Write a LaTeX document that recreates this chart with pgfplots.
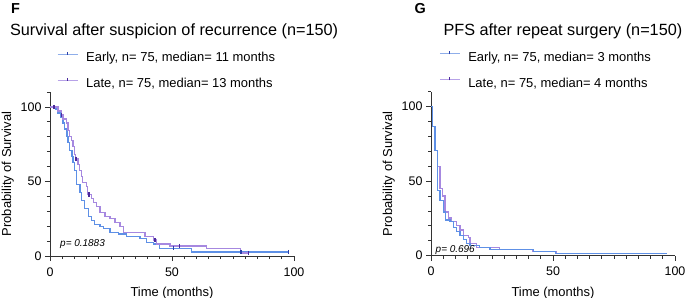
\documentclass[border=0pt]{standalone}
\usepackage{pgfplots}
\pgfplotsset{compat=1.18}
\usepackage{fontspec}
\setmainfont{Liberation Sans}

\definecolor{earlyline}{HTML}{5E90E6}
\definecolor{lateline}{HTML}{A688E0}
\definecolor{earlylegend}{HTML}{8FAEEA}
\definecolor{latelegend}{HTML}{B7A2E8}
\definecolor{earlymark}{HTML}{2A3FA8}
\definecolor{latemark}{HTML}{4B2A9C}
\definecolor{axisgray}{HTML}{333333}

\pgfplotsset{
  kmaxis/.style={
    scale only axis, width=244bp, height=163.9bp,
    xmin=0, xmax=100, ymin=0, ymax=110,
    axis lines*=left,
    axis line style={axisgray, line width=0.9bp},
    tick style={axisgray, line width=0.9bp},
    tick align=outside,
    major tick length=5bp, minor tick length=3bp,
    xtick={0,50,100}, minor xtick={5,10,...,95},
    ytick={0,50,100}, minor ytick={10,20,...,110},
    ticklabel style={font=\fontsize{12.5}{14}\selectfont, text=black},
    xticklabel style={yshift=-3bp},
    /pgf/number format/assume math mode=true,
    xlabel={Time (months)}, ylabel={Probability of Survival},
    label style={font=\fontsize{13}{15}\selectfont},
    xlabel style={yshift=-4bp},
    clip=false,
    legend cell align=left,
    legend style={draw=none, fill=none, inner sep=0pt,
      font=\fontsize{13}{15}\selectfont,
      nodes={inner sep=0pt, text height=9.5bp, text depth=2.5bp},
      row sep=13bp, column sep=8bp,
      at={(axis description cs:0.0287,1.252)}, anchor=north west},
  },
  earlystep/.style={earlyline, line width=1.2bp, const plot, no marks},
  latestep/.style={lateline, line width=1.2bp, const plot, no marks},
  earlykey/.style={legend image code/.code={
      \draw[earlylegend, line width=1bp] (0bp,4bp) -- (20bp,4bp);
      \draw[earlymark, line width=1.2bp] (10bp,3.5bp) -- (10bp,6.5bp);}},
  latekey/.style={legend image code/.code={
      \draw[latelegend, line width=1bp] (0bp,4bp) -- (20bp,4bp);
      \draw[latemark, line width=1.2bp] (10bp,3.5bp) -- (10bp,6.5bp);}},
  censor/.style={only marks, mark=|, mark size=2.2bp,
    mark options={line width=1.4bp, draw=#1}, forget plot},
}

\begin{document}
\begin{tikzpicture}
\useasboundingbox (0,0) rectangle (685bp,298bp);

% ---------------- Panel F ----------------
\node[anchor=base west, font=\bfseries\fontsize{14.5}{16}\selectfont] at (7.5bp,284.5bp) {F};
\node[anchor=base west, font=\fontsize{16.3}{18}\selectfont] at (6.5bp,262bp)
  {Survival after suspicion of recurrence (n=150)};

\begin{axis}[kmaxis, at={(50bp,42bp)}, anchor=south west]
  \addlegendimage{earlykey}
  \addlegendentry{Early, n= 75, median= 11 months}
  \addlegendimage{latekey}
  \addlegendentry{Late, n= 75, median= 13 months}
  \addplot[earlystep, forget plot] coordinates {
    (0,100) (2.2,98.7) (3.3,96.0) (4.5,93.3) (5.3,89.3) (6.0,85.3) (7.0,80.0)
    (7.4,76.0) (8.1,70.7) (9.0,66.7) (9.4,62.7) (10.2,57.3) (10.8,52.0)
    (11.0,48.0) (12.3,42.7) (13.0,37.3) (14.3,32.0) (15.7,26.7) (17.1,24.0)
    (18.4,21.3) (20.5,20.0) (21.8,18.7) (24.6,16.0) (28.0,14.7) (31.4,13.3)
    (36.9,12.0) (39.6,9.3) (42.3,8.0) (45.0,5.3) (58.0,2.7) (97.7,2.7)};
  \addplot[latestep, forget plot] coordinates {
    (0,100) (3.3,97.3) (4.6,94.7) (5.3,92.0) (6.7,89.3) (7.4,84.0) (8.1,80.0)
    (8.7,77.3) (9.4,73.3) (10.2,68.0) (10.5,65.3) (11.5,61.3) (12.2,57.3)
    (12.8,53.3) (13.4,49.3) (15.0,46.7) (15.5,41.3) (17.0,38.7) (17.8,36.0)
    (19.1,33.3) (20.5,29.3) (22.5,26.7) (24.6,25.3) (26.6,22.7) (28.7,20.0)
    (30.0,16.0) (38.9,13.3) (42.3,10.7) (43.7,8.0) (49.2,6.7) (64.3,5.3)
    (78.0,2.0) (81.3,2.0)};
  \addplot[censor=earlymark] coordinates {(50.5,5.3) (78.3,2.7) (97.7,2.7)};
  \addplot[censor=latemark] coordinates {(1.6,100) (4.8,94.7) (10.7,65.3)
    (16.0,41.3) (43.0,10.7) (53.0,6.7) (81.3,2.0)};
  \node[anchor=base west, font=\itshape\fontsize{10}{12}\selectfont]
    at (axis cs:2.75,6.2) {p= 0.1883};
\end{axis}

% ---------------- Panel G ----------------
\node[anchor=base west, font=\bfseries\fontsize{14.5}{16}\selectfont] at (411bp,284.5bp) {G};
\node[anchor=base west, font=\fontsize{16.3}{18}\selectfont] at (440bp,262bp)
  {PFS after repeat surgery (n=150)};

\begin{axis}[kmaxis, at={(431bp,42.3bp)}, anchor=south west,
  legend style={at={(axis description cs:0.033,1.252)}}]
  \addlegendimage{earlykey}
  \addlegendentry{Early, n= 75, median= 3 months}
  \addlegendimage{latekey}
  \addlegendentry{Late, n= 75, median= 4 months}
  \addplot[latestep, forget plot] coordinates {
    (0,100) (0.5,86.7) (1.6,70.7) (2.7,60.0) (3.7,45.3) (4.7,40.0) (5.7,29.3)
    (7.1,25.3) (8.5,22.7) (10.5,20.0) (11.9,17.3) (13.3,13.3) (15.4,12.0)
    (16.0,8.0) (18.7,5.3) (28.0,4.0) (41.8,2.7) (51.5,1.3) (52.5,1.3)};
  \addplot[earlystep, forget plot] coordinates {
    (0,100) (0.5,86.7) (1.6,70.7) (2.7,44.0) (3.7,37.3) (5.1,29.3) (6.1,24.0)
    (7.8,22.7) (9.2,18.7) (10.5,16.0) (11.9,13.3) (13.3,10.7) (14.6,8.0)
    (16.0,6.7) (20.0,5.3) (24.2,4.0) (42.0,2.7) (51.0,1.3) (96.6,1.3)};
  \node[anchor=base west, font=\itshape\fontsize{10}{12}\selectfont]
    at (axis cs:0.5,2.0) {p= 0.696};
\end{axis}
\end{tikzpicture}
\end{document}
